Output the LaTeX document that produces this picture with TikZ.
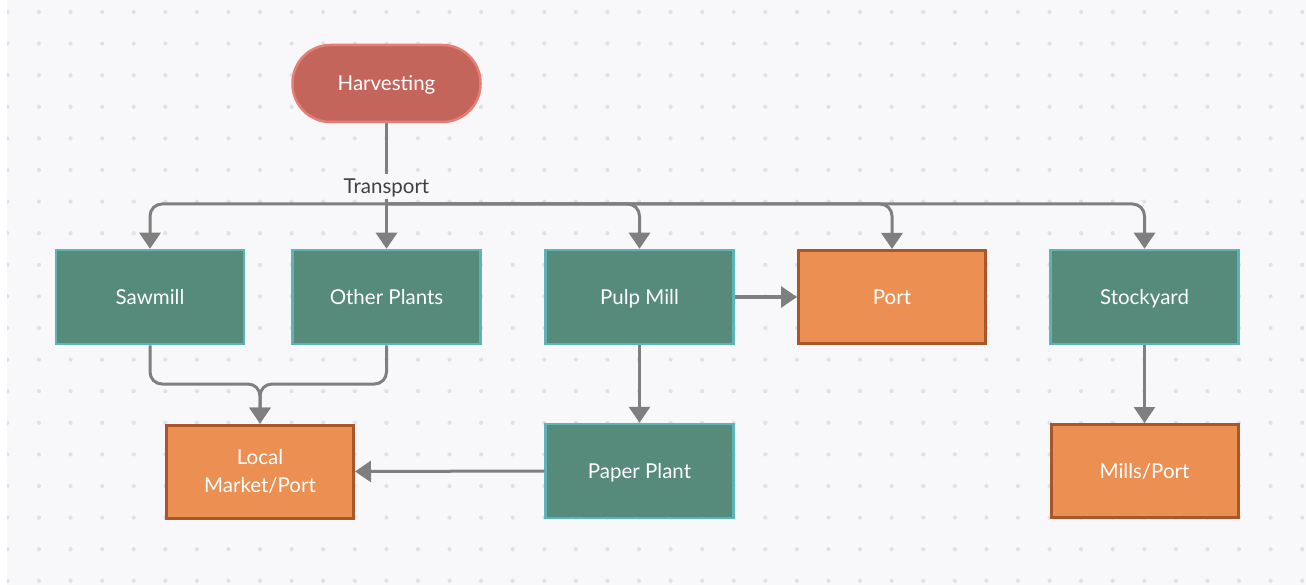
\documentclass[tikz,border=0pt]{standalone}
\usepackage{fontspec}
\setmainfont{Lato}
\usetikzlibrary{arrows.meta}

\definecolor{canvas}{HTML}{F8F8FA}
\definecolor{gridDot}{HTML}{E1E1E5}
\definecolor{tealFill}{HTML}{568A7A}
\definecolor{tealEdge}{HTML}{5DB4B6}
\definecolor{orangeFill}{HTML}{EC8F52}
\definecolor{orangeEdge}{HTML}{A9562A}
\definecolor{redFill}{HTML}{C4655C}
\definecolor{redEdge}{HTML}{E67E76}
\definecolor{wire}{HTML}{7F7F7F}
\definecolor{labelText}{HTML}{404040}

\tikzset{
  boxtext/.style={text=white, font=\fontsize{20.5}{28}\selectfont, align=center},
  oneline/.style={text height=19pt, text depth=4.2pt},
  plant/.style={boxtext, rectangle, fill=tealFill, draw=tealEdge, line width=2.5pt,
    minimum width=188pt, minimum height=94pt, inner sep=0pt},
  outlet/.style={boxtext, rectangle, fill=orangeFill, draw=orangeEdge, line width=3pt,
    minimum width=187pt, minimum height=93pt, inner sep=0pt},
  startnode/.style={boxtext, oneline, rectangle, rounded corners=38pt, fill=redFill,
    draw=redEdge, line width=2.5pt, minimum width=188pt, minimum height=77pt, inner sep=0pt},
  conn/.style={draw=wire, line width=3pt, rounded corners=12pt,
    -{Triangle[width=21pt,length=16pt]}},
  trunk/.style={draw=wire, line width=3pt},
  flowlabel/.style={oneline, fill=canvas, text=labelText, font=\fontsize{20.5}{24}\selectfont,
    inner sep=1pt}
}

\begin{document}
\begin{tikzpicture}[x=1pt,y=-1pt]
  \useasboundingbox (0,0) rectangle (1306,585);
  % canvas with dotted grid
  \fill[canvas] (0,0) rectangle (1306,585);
  \foreach \i in {0,...,41}
    \foreach \j in {0,...,18}
      \fill[gridDot] (7.4+31.58*\i, 12+31.6*\j) circle (2.1pt);
  \fill[white] (0,0) rectangle (7,585);

  % nodes
  \node[startnode] (harv) at (386.5,83.5) {Harvesting};

  \node[plant, oneline]  (saw)   at (150,297)   {Sawmill};
  \node[plant, oneline]  (other) at (386.5,297) {Other Plants};
  \node[plant, oneline]  (pulp)  at (639.5,297) {Pulp Mill};
  \node[outlet, oneline] (port)  at (892,297)   {Port};
  \node[plant, oneline]  (stock) at (1144.5,297) {Stockyard};

  \node[outlet] (local) at (260,471.5) {Local\\Market/Port};
  \node[plant, oneline]  (paper) at (639.5,471) {Paper Plant};
  \node[outlet, oneline] (mills) at (1144.5,471) {Mills/Port};

  % transport bus from harvesting
  \coordinate (bus) at (386.5,204);
  \draw[trunk] (harv.south) -- (bus);
  \draw[conn] (bus) -| (saw.north);
  \draw[conn] (bus) -- (other.north);
  \draw[conn] (bus) -| (pulp.north);
  \draw[conn] (bus) -| (port.north);
  \draw[conn] (bus) -| (stock.north);
  \node[flowlabel] (transport) at (386.5,186.5) {Transport};

  % downstream flows
  \coordinate (merge) at (260,384);
  \draw[conn] (saw.south) |- (merge) -- (local.north);
  \draw[conn] (other.south) |- (merge) -- (local.north);
  \draw[conn] (pulp.east) -- (port.west);
  \draw[conn] (pulp.south) -- (paper.north);
  \draw[conn] (paper.west) -- (local.east);
  \draw[conn] (stock.south) -- (mills.north);
\end{tikzpicture}
\end{document}
